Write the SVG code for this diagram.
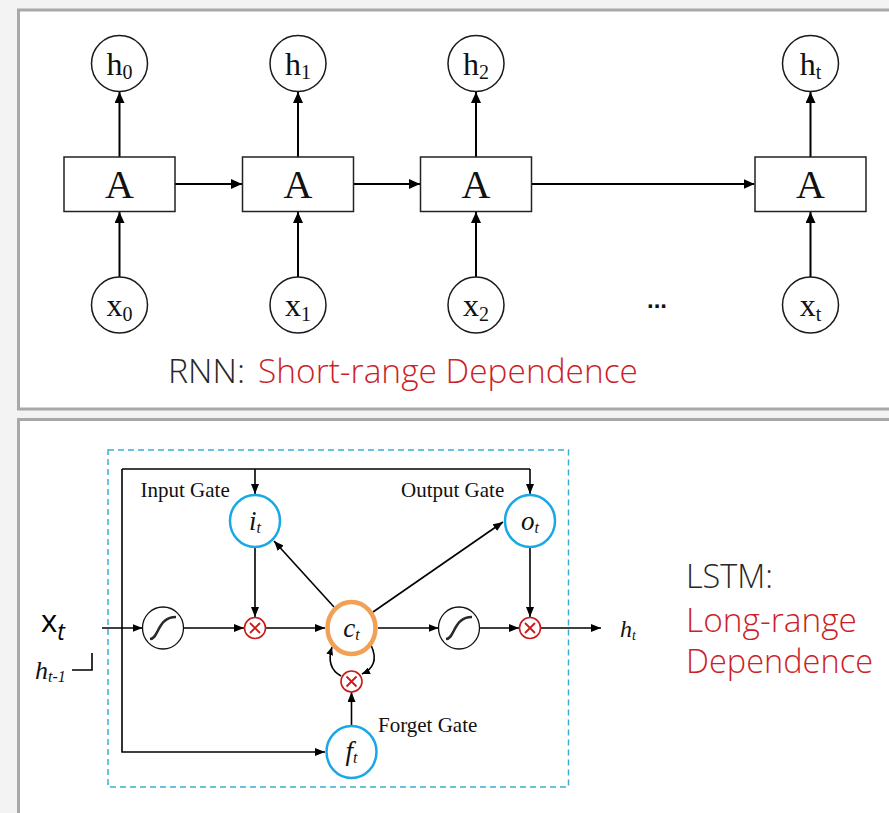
<svg xmlns="http://www.w3.org/2000/svg" width="889" height="813" viewBox="0 0 889 813">
<style>
.panel{fill:#fff;stroke:#a8a8a8;stroke-width:3}
.node{fill:#fff;stroke:#1a1a1a;stroke-width:1.5}
.box{fill:#fff;stroke:#222;stroke-width:1.5}
.rl{font-family:"Liberation Serif","Times New Roman",serif;fill:#111}
.ln{stroke:#000;stroke-width:2;fill:none}
.lt{stroke:#000;stroke-width:1.6;fill:none}
.gate{fill:#fff;stroke:#18a8e6;stroke-width:2.5}
.cell{fill:#fff;stroke:#f2a055;stroke-width:4.5}
.sig{fill:#fff;stroke:#111;stroke-width:1.3}
.sc{fill:none;stroke:#2a2a2a;stroke-width:2.6}
.mul{fill:#fff;stroke:#cc1a1a;stroke-width:1.6}
.mx{stroke:#cc1a1a;stroke-width:1.8}
.it{font-family:"Liberation Serif","Times New Roman",serif;font-style:italic;fill:#111}
.tm{font-family:"Liberation Serif","Times New Roman",serif;fill:#111;font-size:21px}
.sf{font-family:"Segoe UI Light","Open Sans","Noto Sans",sans-serif;font-weight:300;font-size:33px}
.dk{fill:#262626}
.rd{fill:#cc1f2a}
</style>
<defs>
<marker id="a1" markerUnits="userSpaceOnUse" markerWidth="11" markerHeight="10" refX="11" refY="5" orient="auto"><path d="M0,0 L11,5 L0,10 z" fill="#000"/></marker>
<marker id="a2" markerUnits="userSpaceOnUse" markerWidth="10" markerHeight="8" refX="10" refY="4" orient="auto"><path d="M0,0 L10,4 L0,8 z" fill="#000"/></marker>
<marker id="a3" markerUnits="userSpaceOnUse" markerWidth="8" markerHeight="7" refX="8" refY="3.5" orient="auto"><path d="M0,0 L8,3.5 L0,7 z" fill="#000"/></marker>
</defs>
<rect width="889" height="813" fill="#f3f3f3"/>
<rect class="panel" x="18.5" y="10" width="880" height="399"/>
<rect class="panel" x="18.5" y="419.5" width="880" height="400"/>

<g id="rnn-connectors">
<line class="ln" x1="119.5" y1="157" x2="119.5" y2="92" marker-end="url(#a1)"/>
<line class="ln" x1="298" y1="157" x2="298" y2="92" marker-end="url(#a1)"/>
<line class="ln" x1="476" y1="157" x2="476" y2="92" marker-end="url(#a1)"/>
<line class="ln" x1="810.5" y1="157" x2="810.5" y2="92" marker-end="url(#a1)"/>
<line class="ln" x1="119.5" y1="277" x2="119.5" y2="212" marker-end="url(#a1)"/>
<line class="ln" x1="298" y1="277" x2="298" y2="212" marker-end="url(#a1)"/>
<line class="ln" x1="476" y1="277" x2="476" y2="212" marker-end="url(#a1)"/>
<line class="ln" x1="810.5" y1="277" x2="810.5" y2="212" marker-end="url(#a1)"/>
<line class="ln" x1="175" y1="184" x2="242" y2="184" marker-end="url(#a1)"/>
<line class="ln" x1="353.5" y1="184" x2="420" y2="184" marker-end="url(#a1)"/>
<line class="ln" x1="531.5" y1="184" x2="754.5" y2="184" marker-end="url(#a1)"/>
</g>

<g id="h0"><circle class="node" cx="119.5" cy="63.5" r="28"/><text class="rl" x="119.5" y="75" text-anchor="middle" font-size="32">h<tspan font-size="20" dy="4">0</tspan></text></g>
<g id="h1"><circle class="node" cx="298" cy="63.5" r="28"/><text class="rl" x="298" y="75" text-anchor="middle" font-size="32">h<tspan font-size="20" dy="4">1</tspan></text></g>
<g id="h2"><circle class="node" cx="476" cy="63.5" r="28"/><text class="rl" x="476" y="75" text-anchor="middle" font-size="32">h<tspan font-size="20" dy="4">2</tspan></text></g>
<g id="ht"><circle class="node" cx="810.5" cy="63.5" r="28"/><text class="rl" x="810.5" y="75" text-anchor="middle" font-size="32">h<tspan font-size="20" dy="4">t</tspan></text></g>

<g id="A0"><rect class="box" x="64" y="157" width="111" height="54.5"/><text class="rl" x="119.5" y="198" text-anchor="middle" font-size="40">A</text></g>
<g id="A1"><rect class="box" x="242.5" y="157" width="111" height="54.5"/><text class="rl" x="298" y="198" text-anchor="middle" font-size="40">A</text></g>
<g id="A2"><rect class="box" x="420.5" y="157" width="111" height="54.5"/><text class="rl" x="476" y="198" text-anchor="middle" font-size="40">A</text></g>
<g id="At"><rect class="box" x="755" y="157" width="111" height="54.5"/><text class="rl" x="810.5" y="198" text-anchor="middle" font-size="40">A</text></g>

<g id="x0"><circle class="node" cx="119.5" cy="305" r="28"/><text class="rl" x="119.5" y="316" text-anchor="middle" font-size="32">x<tspan font-size="20" dy="5">0</tspan></text></g>
<g id="x1"><circle class="node" cx="298" cy="305" r="28"/><text class="rl" x="298" y="316" text-anchor="middle" font-size="32">x<tspan font-size="20" dy="5">1</tspan></text></g>
<g id="x2"><circle class="node" cx="476" cy="305" r="28"/><text class="rl" x="476" y="316" text-anchor="middle" font-size="32">x<tspan font-size="20" dy="5">2</tspan></text></g>
<g id="xt"><circle class="node" cx="810.5" cy="305" r="28"/><text class="rl" x="810.5" y="316" text-anchor="middle" font-size="32">x<tspan font-size="20" dy="5">t</tspan></text></g>

<text x="657" y="308" text-anchor="middle" font-family="Liberation Sans,Arial,sans-serif" font-weight="bold" font-size="24" fill="#111">...</text>

<text class="sf dk" x="168" y="383" textLength="77" lengthAdjust="spacingAndGlyphs">RNN:</text>
<text class="sf rd" x="258" y="383" textLength="380" lengthAdjust="spacingAndGlyphs">Short-range Dependence</text>

<rect x="108" y="450" width="460.5" height="337" fill="none" stroke="#3aaed0" stroke-width="1.5" stroke-dasharray="6,4"/>

<g id="lstm-connectors">
<path class="lt" d="M122,469 H530"/>
<path class="lt" d="M122,469 V752 H325" marker-end="url(#a2)"/>
<path class="lt" d="M255,469 V494" marker-end="url(#a2)"/>
<path class="lt" d="M530,469 V494" marker-end="url(#a2)"/>
<path class="lt" d="M102,628 H142.5" marker-end="url(#a2)"/>
<path class="lt" d="M183.5,628 H244" marker-end="url(#a2)"/>
<path class="lt" d="M255,547 V617" marker-end="url(#a2)"/>
<path class="lt" d="M266,628 H325" marker-end="url(#a2)"/>
<path class="lt" d="M378,628 H438.5" marker-end="url(#a2)"/>
<path class="lt" d="M479.5,628 H519" marker-end="url(#a2)"/>
<path class="lt" d="M530,547 V617" marker-end="url(#a2)"/>
<path class="lt" d="M541,628 H601" marker-end="url(#a2)"/>
<path class="lt" d="M334,607 L274,541" marker-end="url(#a2)"/>
<path class="lt" d="M373,612 L503,522" marker-end="url(#a2)"/>
<path class="lt" d="M351.5,726 V692" marker-end="url(#a2)"/>
<path class="lt" d="M371,645 C378,660 373,669 362,674" marker-end="url(#a3)"/>
<path class="lt" d="M341,676 C330,670 328,660 332,647" marker-end="url(#a3)"/>
<path class="lt" d="M72,670 H92 V653"/>
</g>

<g id="input-gate"><ellipse class="gate" cx="255" cy="521" rx="25" ry="26"/><text class="it" x="255" y="530" text-anchor="middle" font-size="27">i<tspan font-size="16" dy="3">t</tspan></text></g>
<g id="output-gate"><ellipse class="gate" cx="530" cy="521" rx="25" ry="26"/><text class="it" x="530" y="530" text-anchor="middle" font-size="27">o<tspan font-size="16" dy="3">t</tspan></text></g>
<g id="forget-gate"><ellipse class="gate" cx="351.5" cy="752" rx="25" ry="26"/><text class="it" x="351.5" y="760" text-anchor="middle" font-size="27">f<tspan font-size="16" dy="3">t</tspan></text></g>
<g id="cell"><ellipse class="cell" cx="351.5" cy="628" rx="24" ry="26"/><text class="it" x="351.5" y="637" text-anchor="middle" font-size="27">c<tspan font-size="16" dy="3">t</tspan></text></g>

<g id="sig1"><ellipse class="sig" cx="163" cy="628" rx="20.5" ry="21"/><path class="sc" d="M150,639 C159,639 157,617 176,617"/></g>
<g id="sig2"><ellipse class="sig" cx="459" cy="628" rx="20.5" ry="21"/><path class="sc" d="M446,639 C455,639 453,617 472,617"/></g>

<g id="mul1"><circle class="mul" cx="255" cy="628" r="10.5"/><path class="mx" d="M250,623 L260,633 M260,623 L250,633"/></g>
<g id="mul2"><circle class="mul" cx="530" cy="628" r="10.5"/><path class="mx" d="M525,623 L535,633 M535,623 L525,633"/></g>
<g id="mul3"><circle class="mul" cx="351.5" cy="681.5" r="10.5"/><path class="mx" d="M346.5,676.5 L356.5,686.5 M356.5,676.5 L346.5,686.5"/></g>

<text class="tm" x="140.5" y="497">Input Gate</text>
<text class="tm" x="401" y="497">Output Gate</text>
<text class="tm" x="378" y="732">Forget Gate</text>

<text x="41" y="632" font-family="Open Sans,Noto Sans,sans-serif" font-weight="500" font-size="31" fill="#000">x<tspan font-size="23" font-style="italic" dy="8">t</tspan></text>
<text class="it" x="35" y="679" font-size="26">h<tspan font-size="16" dy="3">t-1</tspan></text>
<text class="it" x="620" y="637" font-size="24">h<tspan font-size="14" dy="3">t</tspan></text>

<text class="sf dk" x="686" y="588" textLength="87" lengthAdjust="spacingAndGlyphs">LSTM:</text>
<text class="sf rd" x="686" y="632" textLength="171" lengthAdjust="spacingAndGlyphs">Long-range</text>
<text class="sf rd" x="686" y="673" textLength="187" lengthAdjust="spacingAndGlyphs">Dependence</text>
</svg>
